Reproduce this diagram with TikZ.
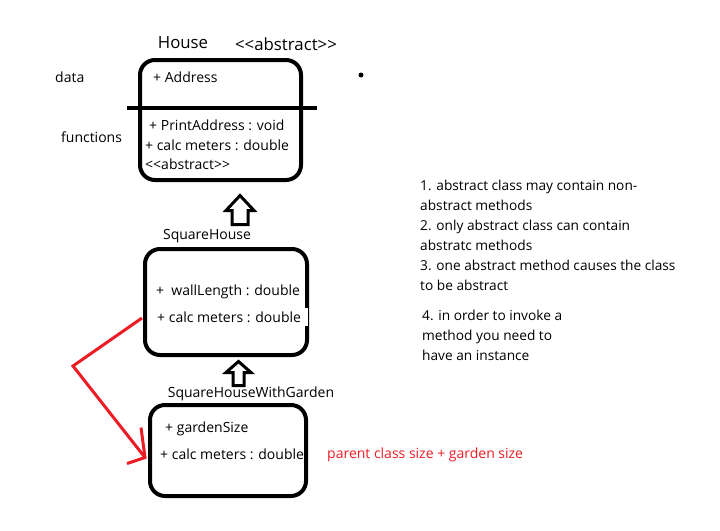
\documentclass[tikz,border=0pt]{standalone}
\usepackage{fontspec}
\setmainfont{Open Sans}[Ligatures=TeXOff]
\usetikzlibrary{calc}
\definecolor{paintred}{RGB}{237,28,36}

\begin{document}
\begin{tikzpicture}[x=1pt,y=-1pt,
    class_box/.style={draw,line width=4pt,rounded corners=15pt,inner sep=0pt},
    member/.style={anchor=west,inner sep=0pt,font=\fontsize{14}{16}\selectfont},
    title/.style={inner sep=0pt,font=\fontsize{14}{16}\selectfont},
    note/.style={anchor=north west,align=left,inner sep=0pt,font=\fontsize{13.7}{20}\selectfont},
    block_arrow/.style={draw,line width=3pt,line join=miter},
    red_link/.style={draw=paintred,line width=3pt,line join=miter}]

    \useasboundingbox (0,0) rectangle (720,530);

    % classes
    \node[class_box, minimum width=161pt, minimum height=120pt] (house)  at (220.5,120) {};
    \node[class_box, minimum width=162pt, minimum height=106pt] (square) at (226,302) {};
    \node[class_box, minimum width=156pt, minimum height=91pt]  (garden) at (228,450.5) {};
    \draw[line width=4pt] (127,108) -- (317,108);

    % titles
    \node[title, font=\fontsize{16.8}{18}\selectfont] (house_name) at (183,43) {House};
    \node[title, font=\fontsize{16.8}{18}\selectfont] (house_tag)  at (286,44) {<<abstract>>};
    \node[title] (square_name) at (207,236) {SquareHouse};
    \node[title] (garden_name) at (251,394) {SquareHouseWithGarden};
    \node[member] (data)  at (55,77)  {data};
    \node[member] (funcs) at (61,137) {functions};
    \fill (361,75) circle (2.5pt);

    % members
    \node[member] (address)  at (153,77)  {+ Address};
    \node[member] (print)    at (149,125) {+ PrintAddress : void};
    \node[member] (calc_a)   at (145,145) {+ calc meters : double};
    \node[member] (abs_tag)  at (145,164) {<<abstract>>};
    \node[member] (wall)     at (156,292) {+\ \ wallLength : double};
    \fill[white] (152,308) rectangle (307.5,326);
    \node[member] (calc_b)   at (157,317) {+ calc meters : double};
    \node[member] (gsize)    at (165,429) {+ gardenSize};
    \node[member] (calc_c)   at (160,454) {+ calc meters : double};
    \node[member, text=paintred] (sum) at (327,455) {parent class size + garden size};

    % inheritance
    \draw[block_arrow] ($(house.south)+(19.5,13.5)$) -- ++(14,15) -- ++(-6,0) -- ++(0,14)
        -- ++(-16,0) -- ++(0,-14) -- ++(-6,0) -- cycle;
    \draw[block_arrow] ($(square.south)+(12.5,4.5)$) -- ++(12.5,11) -- ++(-7,0) -- ++(0,13)
        -- ++(-11,0) -- ++(0,-13) -- ++(-7,0) -- cycle;

    % override
    \coordinate (bend) at (73,366);
    \coordinate (tip) at ($(garden.west)+(-3,7)$);
    \draw[red_link] ($(square.west)+(-1,16)$) -- (bend) -- (tip);
    \draw[red_link] ($(tip)+(-4,-30)$) -- (tip) -- ++(-18,6);

    % notes
    \node[note] (rules) at (420,180) {1. abstract class may contain non-\\abstract methods\\2. only abstract class can contain\\abstratc methods\\3. one abstract method causes the class\\to be abstract};
    \node[note] (rule_four) at (422,310) {4. in order to invoke a\\method you need to\\have an instance};

\end{tikzpicture}
\end{document}
